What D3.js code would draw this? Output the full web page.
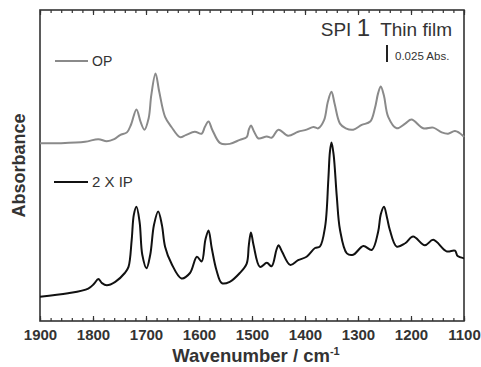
<!DOCTYPE html>
<html>
<head>
<meta charset="utf-8">
<script src="https://cdn.jsdelivr.net/npm/d3@7"></script>
<style>
  body { margin: 0; background: #fff; }
  svg { display: block; font-family: "Liberation Sans", Arial, sans-serif; }
</style>
</head>
<body>
<div id="chart"></div>
<script>
// OP spectrum (gray)
var opWavenumber = [1900, 1862, 1815, 1790, 1774, 1760, 1749, 1736, 1728, 1718, 1710, 1703, 1695, 1690, 1682, 1675, 1664, 1652, 1636, 1625, 1608, 1595, 1589, 1582, 1575, 1560, 1542, 1523, 1510, 1506, 1502, 1496, 1488, 1472, 1463, 1450, 1432, 1413, 1397, 1384, 1375, 1364, 1357, 1350, 1344, 1334, 1323, 1309, 1293, 1277, 1268, 1262, 1257, 1251, 1243, 1227, 1211, 1199, 1177, 1158, 1142, 1130, 1117, 1102, 1100];
var opAbsorbance = [0.263, 0.263, 0.265, 0.269, 0.266, 0.269, 0.275, 0.279, 0.291, 0.313, 0.294, 0.283, 0.300, 0.334, 0.366, 0.339, 0.302, 0.287, 0.272, 0.275, 0.280, 0.277, 0.287, 0.295, 0.283, 0.263, 0.262, 0.268, 0.272, 0.283, 0.289, 0.280, 0.270, 0.273, 0.271, 0.283, 0.274, 0.280, 0.283, 0.287, 0.285, 0.297, 0.324, 0.339, 0.321, 0.292, 0.285, 0.283, 0.290, 0.295, 0.315, 0.337, 0.347, 0.333, 0.302, 0.285, 0.292, 0.298, 0.285, 0.286, 0.279, 0.277, 0.281, 0.274, 0.272];

// 2 X IP spectrum (black)
var ipWavenumber = [1900, 1847, 1809, 1798, 1790, 1783, 1774, 1758, 1740, 1733, 1727, 1723, 1718, 1712, 1707, 1699, 1692, 1685, 1677, 1670, 1664, 1652, 1633, 1617, 1604, 1595, 1588, 1582, 1576, 1567, 1557, 1542, 1523, 1510, 1506, 1502, 1497, 1485, 1472, 1463, 1454, 1450, 1443, 1428, 1413, 1397, 1381, 1372, 1362, 1356, 1353, 1350, 1346, 1340, 1334, 1321, 1309, 1290, 1274, 1262, 1257, 1251, 1245, 1240, 1227, 1211, 1196, 1174, 1158, 1133, 1117, 1112, 1101, 1100];
var ipAbsorbance = [0.036, 0.041, 0.048, 0.055, 0.062, 0.056, 0.053, 0.058, 0.071, 0.080, 0.120, 0.157, 0.169, 0.146, 0.098, 0.078, 0.098, 0.142, 0.162, 0.142, 0.110, 0.085, 0.063, 0.071, 0.095, 0.088, 0.120, 0.134, 0.108, 0.075, 0.056, 0.058, 0.071, 0.085, 0.112, 0.131, 0.112, 0.080, 0.086, 0.081, 0.105, 0.112, 0.102, 0.083, 0.090, 0.095, 0.108, 0.110, 0.140, 0.209, 0.250, 0.264, 0.246, 0.184, 0.135, 0.100, 0.098, 0.111, 0.105, 0.132, 0.158, 0.169, 0.152, 0.135, 0.110, 0.115, 0.125, 0.112, 0.120, 0.103, 0.104, 0.096, 0.093, 0.093];

var majorTicks = [1900, 1800, 1700, 1600, 1500, 1400, 1300, 1200, 1100];
var scaleBarAbs = 0.025;

var width = 481, height = 367;
var margin = { top: 10, right: 17, bottom: 46, left: 40 };
var plotW = width - margin.left - margin.right,
    plotH = height - margin.top - margin.bottom;

var svg = d3.select("#chart").append("svg")
    .attr("width", width)
    .attr("height", height);

var g = svg.append("g")
    .attr("transform", "translate(" + margin.left + "," + margin.top + ")");

var x = d3.scaleLinear().domain([1900, 1100]).range([0, plotW]);
var y = d3.scaleLinear().domain([0, 0.46]).range([plotH, 0]);

var minorTicks = d3.range(1100, 1901, 20);

// bottom axis (ticks pointing inwards)
g.append("g")
    .attr("class", "minor")
    .attr("transform", "translate(0," + plotH + ")")
    .call(d3.axisBottom(x).tickValues(minorTicks).tickSize(-3).tickFormat(""));
g.append("g")
    .attr("class", "major")
    .attr("transform", "translate(0," + plotH + ")")
    .call(d3.axisBottom(x).tickValues(majorTicks).tickSize(-5).tickPadding(8).tickFormat(d3.format("d")));

// top axis, no labels
g.append("g")
    .attr("class", "minor")
    .call(d3.axisTop(x).tickValues(minorTicks).tickSize(-3).tickFormat(""));
g.append("g")
    .attr("class", "minor")
    .call(d3.axisTop(x).tickValues(majorTicks).tickSize(-5).tickFormat(""));

g.selectAll(".domain").remove();
g.selectAll(".tick line").attr("stroke", "#333").attr("stroke-width", 1.2);
g.selectAll(".major .tick text")
    .attr("fill", "#333")
    .style("font-size", "15px")
    .style("font-weight", "bold");

// frame
g.append("rect")
    .attr("width", plotW)
    .attr("height", plotH)
    .attr("fill", "none")
    .attr("stroke", "#333")
    .attr("stroke-width", 1.6);

var line = d3.line()
    .x(function (d) { return x(d[0]); })
    .y(function (d) { return y(d[1]); })
    .curve(d3.curveCatmullRom.alpha(0.5));

g.append("path")
    .datum(d3.zip(opWavenumber, opAbsorbance))
    .attr("fill", "none")
    .attr("stroke", "#8a8a8a")
    .attr("stroke-width", 2)
    .attr("d", line);

g.append("path")
    .datum(d3.zip(ipWavenumber, ipAbsorbance))
    .attr("fill", "none")
    .attr("stroke", "#111")
    .attr("stroke-width", 2)
    .attr("d", line);

// legend
g.append("line")
    .attr("x1", 15).attr("x2", 48).attr("y1", 51).attr("y2", 51)
    .attr("stroke", "#8a8a8a").attr("stroke-width", 2);
g.append("text")
    .attr("x", 52).attr("y", 56)
    .attr("fill", "#333")
    .style("font-size", "14px")
    .text("OP");

g.append("line")
    .attr("x1", 14).attr("x2", 48).attr("y1", 172).attr("y2", 172)
    .attr("stroke", "#111").attr("stroke-width", 2);
g.append("text")
    .attr("x", 52).attr("y", 177)
    .attr("fill", "#333")
    .style("font-size", "15px")
    .text("2 X IP");

// title in the corner
var title = g.append("text")
    .attr("x", plotW - 12).attr("y", 26)
    .attr("text-anchor", "end")
    .attr("fill", "#333")
    .style("font-size", "19px");
title.append("tspan").text("SPI ");
title.append("tspan").style("font-size", "24px").text("1");
title.append("tspan").text("\u00a0 Thin film");

// 0.025 Abs scale bar
var barX = 347, barY = 35;
g.append("line")
    .attr("x1", barX).attr("x2", barX)
    .attr("y1", barY).attr("y2", barY + (y(0) - y(scaleBarAbs)))
    .attr("stroke", "#222").attr("stroke-width", 2);
g.append("text")
    .attr("x", barX + 8).attr("y", 50)
    .attr("fill", "#333")
    .style("font-size", "11.5px")
    .text("0.025 Abs.");

// axis titles
var xt = svg.append("text")
    .attr("x", margin.left + plotW / 2 + 4)
    .attr("y", 362)
    .attr("text-anchor", "middle")
    .attr("fill", "#333")
    .style("font-size", "18.5px")
    .style("font-weight", "bold");
xt.append("tspan").text("Wavenumber / cm");
xt.append("tspan").attr("dy", -7).style("font-size", "11px").text("-1");

svg.append("text")
    .attr("transform", "translate(25," + (margin.top + plotH / 2) + ") rotate(-90)")
    .attr("text-anchor", "middle")
    .attr("fill", "#333")
    .style("font-size", "18px")
    .style("font-weight", "bold")
    .text("Absorbance");
</script>
</body>
</html>
